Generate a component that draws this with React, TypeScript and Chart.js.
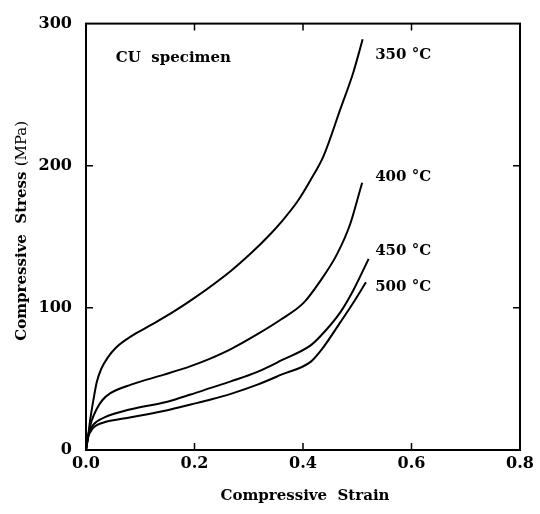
import React, { useEffect, useRef } from "react";
import { Chart, registerables } from "chart.js";

Chart.register(...registerables);

const strain350 = [0, 0.004, 0.008, 0.014, 0.02, 0.028, 0.04, 0.055, 0.083, 0.12, 0.16, 0.2, 0.267, 0.303, 0.34, 0.359, 0.39, 0.414, 0.438, 0.469, 0.493, 0.51];
const stress350 = [0, 10, 22, 36, 48, 57, 65, 72, 80, 88, 97, 107, 126, 138, 152, 160, 175, 190, 207, 240, 266, 289];

const strain400 = [0, 0.004, 0.01, 0.02, 0.03, 0.045, 0.083, 0.144, 0.193, 0.23, 0.267, 0.316, 0.36, 0.401, 0.432, 0.463, 0.487, 0.506, 0.509];
const stress400 = [0, 10, 20, 29, 35, 40, 46, 53, 59, 64.5, 71, 81.5, 92, 103.5, 119, 138, 159, 184, 188];

const strain450 = [0, 0.004, 0.012, 0.02, 0.034, 0.083, 0.15, 0.193, 0.23, 0.267, 0.316, 0.36, 0.414, 0.432, 0.469, 0.493, 0.521];
const stress450 = [0, 10, 17, 20, 23, 28.7, 34, 39, 43.7, 48.3, 55, 63, 73.6, 80, 97, 112.6, 134.5];

const strain500 = [0, 0.004, 0.012, 0.02, 0.034, 0.083, 0.15, 0.193, 0.23, 0.267, 0.316, 0.36, 0.414, 0.435, 0.469, 0.49, 0.516];
const stress500 = [0, 9, 15, 17.5, 19.5, 23, 28, 32, 35.5, 39.5, 46, 53, 62, 71, 90, 102, 118];

const seriesNames = ["350 °C", "400 °C", "450 °C", "500 °C"];
const labelX = [0.533, 0.533, 0.533, 0.533];
const labelY = [278, 192, 140, 114.5];

const noteText = "CU  specimen";
const noteX = 0.055;
const noteY = 276;

const xTitle = "Compressive  Strain";
const yTitleBold = "Compressive  Stress ";
const yTitleNormal = "(MPa)";

const FONT = "'DejaVu Serif', serif";

function pts(xs: number[], ys: number[]) {
  return xs.map((v, i) => ({ x: v, y: ys[i] }));
}

const overlay = {
  id: "overlay",
  afterDraw(chart: any) {
    const { ctx, chartArea, scales } = chart;
    const { left, right, top, bottom } = chartArea;
    const x = scales.x;
    const y = scales.y;
    ctx.save();
    ctx.strokeStyle = "#000";
    ctx.lineWidth = 2;
    ctx.strokeRect(left, top, right - left, bottom - top);
    ctx.lineWidth = 1.5;
    const tl = 7;
    x.ticks.forEach((t: any) => {
      if (t.value <= x.min || t.value >= x.max) return;
      const px = x.getPixelForValue(t.value);
      ctx.beginPath();
      ctx.moveTo(px, bottom);
      ctx.lineTo(px, bottom - tl);
      ctx.moveTo(px, top);
      ctx.lineTo(px, top + tl);
      ctx.stroke();
    });
    y.ticks.forEach((t: any) => {
      if (t.value <= y.min || t.value >= y.max) return;
      const py = y.getPixelForValue(t.value);
      ctx.beginPath();
      ctx.moveTo(left, py);
      ctx.lineTo(left + tl, py);
      ctx.moveTo(right, py);
      ctx.lineTo(right - tl, py);
      ctx.stroke();
    });

    ctx.fillStyle = "#000";
    ctx.textBaseline = "middle";
    ctx.textAlign = "left";
    ctx.font = `bold 15px ${FONT}`;
    seriesNames.forEach((n, i) => {
      ctx.fillText(n, x.getPixelForValue(labelX[i]), y.getPixelForValue(labelY[i]));
    });
    ctx.fillText(noteText, x.getPixelForValue(noteX), y.getPixelForValue(noteY));

    // x title
    ctx.textAlign = "center";
    ctx.font = `bold 15px ${FONT}`;
    ctx.fillText(xTitle, (left + right) / 2 + 2, 496);

    // y title (mixed weights)
    ctx.save();
    ctx.translate(22, (top + bottom) / 2 - 6);
    ctx.rotate(-Math.PI / 2);
    ctx.textAlign = "left";
    ctx.font = `bold 15px ${FONT}`;
    const w1 = ctx.measureText(yTitleBold).width;
    ctx.font = `15px ${FONT}`;
    const w2 = ctx.measureText(yTitleNormal).width;
    const start = -(w1 + w2) / 2;
    ctx.font = `bold 15px ${FONT}`;
    ctx.fillText(yTitleBold, start, 0);
    ctx.font = `15px ${FONT}`;
    ctx.fillText(yTitleNormal, start + w1, 0);
    ctx.restore();

    ctx.restore();
  },
};

export default function App() {
  const ref = useRef<HTMLCanvasElement | null>(null);
  useEffect(() => {
    document.body.style.margin = "0";
    if (!ref.current) return;
    const mk = (xs: number[], ys: number[], label: string) => ({
      label,
      data: pts(xs, ys),
      borderColor: "#000",
      borderWidth: 2,
      pointRadius: 0,
      fill: false,
      cubicInterpolationMode: "monotone" as const,
    });
    const chart = new Chart(ref.current, {
      type: "line",
      data: {
        datasets: [
          mk(strain350, stress350, seriesNames[0]),
          mk(strain400, stress400, seriesNames[1]),
          mk(strain450, stress450, seriesNames[2]),
          mk(strain500, stress500, seriesNames[3]),
        ],
      },
      options: {
        animation: false,
        responsive: false,
        maintainAspectRatio: false,
        layout: { padding: { top: 15, right: 20, left: 0, bottom: 0 } },
        plugins: { legend: { display: false }, tooltip: { enabled: false } },
        scales: {
          x: {
            type: "linear",
            min: 0,
            max: 0.8,
            grid: { display: false, drawTicks: false },
            border: { display: false },
            ticks: {
              stepSize: 0.2,
              padding: 4,
              color: "#000",
              font: { family: FONT, size: 16, weight: "bold" },
              callback: (v: any) => Number(v).toFixed(1),
              maxRotation: 0,
            },
            afterFit: (s: any) => {
              s.height = 64;
            },
          },
          y: {
            type: "linear",
            min: 0,
            max: 300,
            grid: { display: false, drawTicks: false },
            border: { display: false },
            ticks: {
              stepSize: 100,
              padding: 14,
              color: "#000",
              font: { family: FONT, size: 16, weight: "bold" },
            },
            afterFit: (s: any) => {
              s.width = 86;
            },
          },
        },
      },
      plugins: [overlay],
    });
    return () => chart.destroy();
  }, []);
  return (
    <div style={{ position: "fixed", left: 0, top: 0, width: 540, height: 514, background: "#fff" }}>
      <canvas ref={ref} width={540} height={514} style={{ width: 540, height: 514 }} />
    </div>
  );
}
